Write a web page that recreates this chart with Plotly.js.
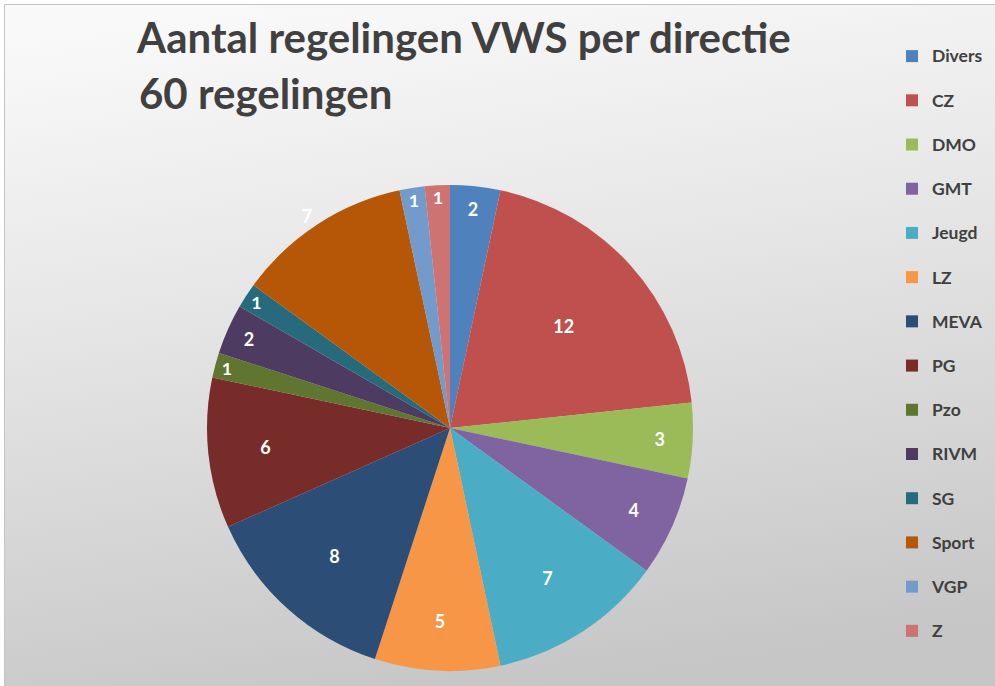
<!DOCTYPE html>
<html>
<head>
<meta charset="utf-8">
<script src="https://cdn.plot.ly/plotly-3.0.1.min.js"></script>
<style>
  html, body { margin: 0; padding: 0; background: #ffffff; }
  #wrap { position: relative; width: 995px; height: 686px; overflow: hidden; background: #ffffff; }
  #bg { position: absolute; left: 4px; top: 4px; right: 0; bottom: 0;
        border-left: 1px solid #c4c4c4; border-top: 1px solid #c4c4c4;
        background: linear-gradient(172deg, #f9f9f9 4%, #e6e6e6 40%, #c6c6c6 92%); }
  #chart { position: absolute; left: 0; top: 0; width: 995px; height: 686px; }
</style>
</head>
<body>
<div id="wrap">
  <div id="bg"></div>
  <div id="chart"></div>
</div>
<script>
// ---- data ----
var labels = ['Divers', 'CZ', 'DMO', 'GMT', 'Jeugd', 'LZ', 'MEVA', 'PG', 'Pzo', 'RIVM', 'SG', 'Sport', 'VGP', 'Z'];
var values = [2, 12, 3, 4, 7, 5, 8, 6, 1, 2, 1, 7, 1, 1];
var colors = ['#4F81BD', '#C0504D', '#9BBB59', '#8064A2', '#4BACC6', '#F79646', '#2C4D75',
              '#772C2A', '#5F7530', '#4D3B62', '#276A7C', '#B65708', '#729ACA', '#CD7371'];
var titleLine1 = 'Aantal regelingen VWS per directie';
var titleLine2 = '60 regelingen';

var W = 995, H = 686;
var textPos = labels.map(function (l) { return l === 'Sport' ? 'outside' : 'inside'; });
var legendLabels = labels.map(function (l) {
  return '<span style="font-size:17.5px;baseline-shift:6px">' + l + '</span>';
});

var trace = {
  type: 'pie',
  labels: legendLabels,
  values: values,
  sort: false,
  direction: 'clockwise',
  rotation: 0,
  marker: { colors: colors, line: { width: 0 } },
  textinfo: 'value',
  textposition: textPos,
  insidetextorientation: 'horizontal',
  insidetextfont: { family: 'Lato, sans-serif', size: 18, weight: 700, color: '#ffffff' },
  outsidetextfont: { family: 'Lato, sans-serif', size: 18, weight: 700, color: '#ffffff' },
  automargin: false,
  domain: { x: [207 / W, 693 / W], y: [1 - 671 / H, 1 - 185 / H] },
  hoverinfo: 'label+value'
};

var layout = {
  width: W, height: H,
  margin: { l: 0, r: 0, t: 0, b: 0 },
  paper_bgcolor: 'rgba(0,0,0,0)',
  plot_bgcolor: 'rgba(0,0,0,0)',
  title: {
    text: titleLine1,
    x: 137 / W, xanchor: 'left', xref: 'paper',
    y: 1 - 38 / H, yanchor: 'middle',
    font: { family: 'Lato, sans-serif', size: 42, weight: 700, color: '#404040' }
  },
  annotations: [{
    text: titleLine2, showarrow: false,
    xref: 'paper', yref: 'paper',
    x: 137 / W, xanchor: 'left',
    y: 1 - 93 / H, yanchor: 'middle',
    font: { family: 'Lato, sans-serif', size: 42, weight: 700, color: '#404040' }
  }],
  showlegend: true,
  legend: {
    x: 892 / W, xanchor: 'left',
    y: 1 - 29 / H, yanchor: 'top',
    bgcolor: 'rgba(0,0,0,0)',
    borderwidth: 0,
    font: { family: 'Lato, sans-serif', size: 31.7, weight: 700, color: '#404040' },
    traceorder: 'normal'
  }
};

Plotly.newPlot('chart', [trace], layout, { displayModeBar: false, staticPlot: true });
</script>
</body>
</html>
